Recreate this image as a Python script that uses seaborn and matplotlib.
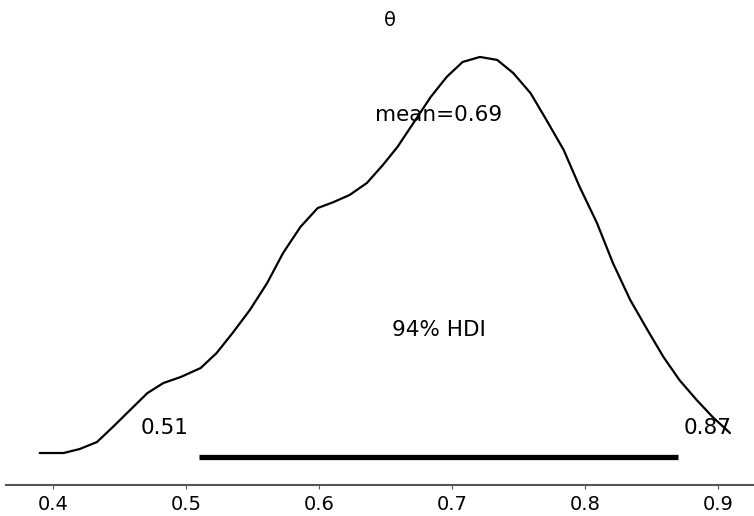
import matplotlib
matplotlib.use("Agg")
import matplotlib.pyplot as plt
import seaborn as sns
import pandas as pd

# Posterior density of theta
theta = [0.390, 0.408, 0.420, 0.433, 0.445, 0.458, 0.471, 0.483, 0.496, 0.511,
         0.523, 0.535, 0.548, 0.561, 0.573, 0.586, 0.599, 0.611, 0.623, 0.636,
         0.648, 0.659, 0.671, 0.684, 0.696, 0.708, 0.721, 0.734, 0.746, 0.759,
         0.771, 0.784, 0.796, 0.809, 0.821, 0.834, 0.847, 0.859, 0.871, 0.884,
         0.896, 0.909]
density = [0.019, 0.019, 0.056, 0.121, 0.262, 0.421, 0.579, 0.673, 0.729, 0.813,
           0.953, 1.140, 1.355, 1.607, 1.888, 2.131, 2.308, 2.364, 2.430, 2.542,
           2.710, 2.879, 3.103, 3.346, 3.533, 3.673, 3.720, 3.692, 3.570, 3.383,
           3.131, 2.850, 2.505, 2.168, 1.794, 1.449, 1.168, 0.916, 0.701, 0.514,
           0.355, 0.206]
hdi_bounds = [0.51, 0.87]
hdi_labels = ["0.51", "0.87"]
mean_value = 0.69
hdi_prob_label = "94% HDI"
title = "θ"
xticks = [0.4, 0.5, 0.6, 0.7, 0.8, 0.9]

sns.set_style("white")
plt.rcParams["font.family"] = ["DejaVu Sans"]
plt.rcParams["text.color"] = "black"
plt.rcParams["xtick.color"] = "black"

fig = plt.figure(figsize=(7.54, 5.16), dpi=100)
ax = fig.add_axes([6 / 754, 31 / 516, 768 / 754, 447 / 516])

df = pd.DataFrame({"theta": theta, "density": density})
sns.lineplot(data=df, x="theta", y="density", ax=ax, color="black", lw=1.6,
             sort=False, estimator=None, solid_joinstyle="round")

hdf = pd.DataFrame({"x": hdi_bounds, "y": [-0.02, -0.02]})
sns.lineplot(data=hdf, x="x", y="y", ax=ax, color="black", lw=3.8,
             estimator=None, solid_capstyle="butt")

fs_ann = 15.5
ax.text(mean_value, 3.18, f"mean={mean_value:.2f}", ha="center", va="center",
        fontsize=fs_ann, color="black")
ax.text(0.69, 1.17, hdi_prob_label, ha="center", va="center",
        fontsize=fs_ann, color="black")
ax.text(0.484, 0.25, hdi_labels[0], ha="center", va="center",
        fontsize=fs_ann, color="black")
ax.text(0.8925, 0.25, hdi_labels[1], ha="center", va="center",
        fontsize=fs_ann, color="black")

ax.set_xlim(0.4 - 47 / 1330, 0.4 - 47 / 1330 + 768 / 1330)
ax.set_ylim(-0.280, 3.897)
ax.set_xticks(xticks)
ax.set_xticklabels([f"{t:.1f}" for t in xticks], fontsize=14, color="black")
ax.set_yticks([])
ax.set_xlabel("")
ax.set_ylabel("")
ax.set_title(title, fontsize=14, pad=9, color="black")

sns.despine(ax=ax, left=True, top=True, right=True)
ax.spines["bottom"].set_color("#555555")
ax.spines["bottom"].set_linewidth(1.5)
ax.tick_params(axis="x", bottom=True, length=3, color="#555555", pad=4)

fig.savefig("out.png", dpi=100)
